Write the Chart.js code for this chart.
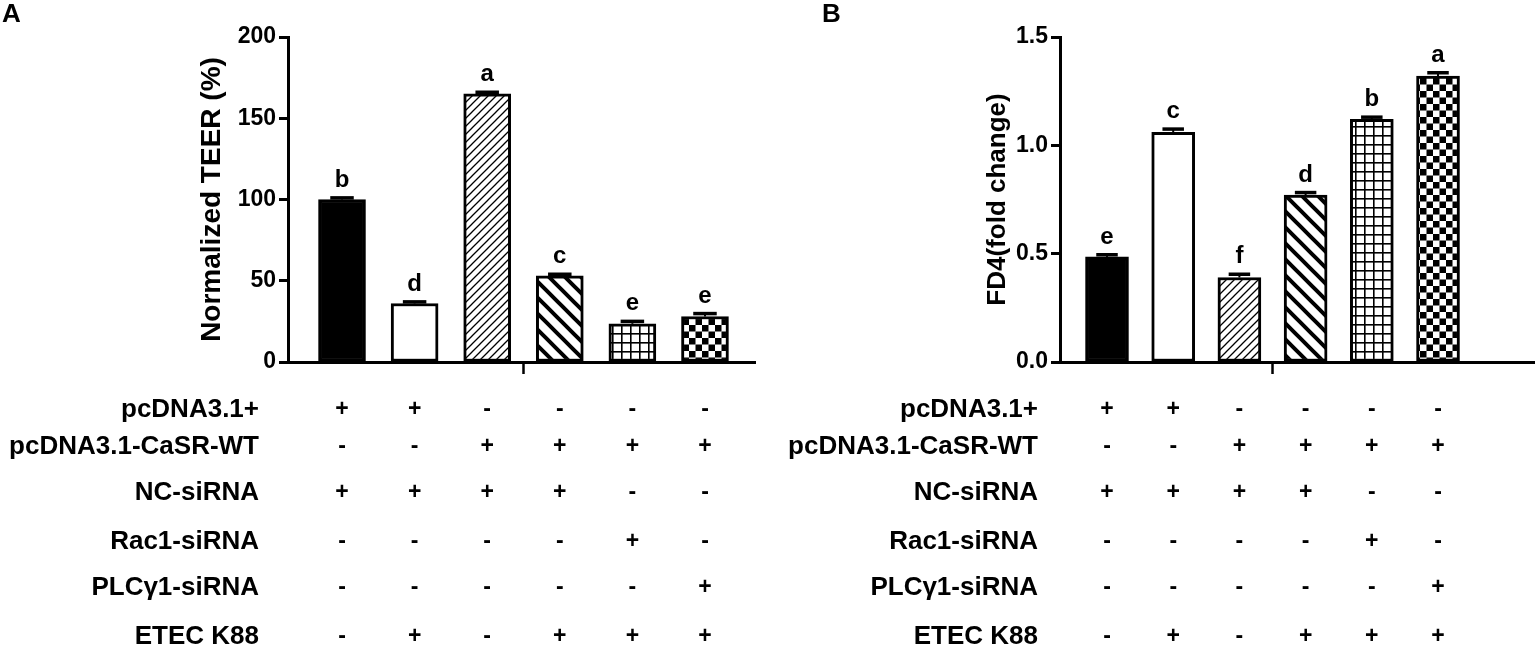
<!DOCTYPE html>
<html lang="en">
<head>
    <meta charset="UTF-8">
    <title>TEER and FD4</title>
    <script src="https://cdn.jsdelivr.net/npm/chart.js"></script>
    <style>
        body {
            margin: 0;
            padding: 0;
            background: #ffffff;
        }

        .wrap {
            position: relative;
            width: 1535px;
            height: 648px;
            overflow: hidden;
        }

        .panel {
            position: absolute;
            top: 0;
        }
    </style>
</head>
<body>
<div class="wrap">
    <div class="panel" style="left:0"><canvas id="chartA" width="770" height="648"></canvas></div>
    <div class="panel" style="left:770px"><canvas id="chartB" width="765" height="648"></canvas></div>
</div>

<script>
    // six treatment groups, same design in both panels
    const groups = [0, 1, 2, 3, 4, 5];

    const teerValues = [100, 36, 165, 53, 23.5, 28];
    const teerErrors = [1, 1, 1, 1, 1.5, 1.8];
    const teerLetters = ['b', 'd', 'a', 'c', 'e', 'e'];
    const teerTicks = [0, 50, 100, 150, 200];

    const fd4Values = [0.485, 1.06, 0.39, 0.77, 1.12, 1.32];
    const fd4Errors = [0.01, 0.015, 0.015, 0.012, 0.01, 0.015];
    const fd4Letters = ['e', 'c', 'f', 'd', 'b', 'a'];
    const fd4Ticks = [0, 0.5, 1.0, 1.5];

    const rowNames = ['pcDNA3.1+', 'pcDNA3.1-CaSR-WT', 'NC-siRNA', 'Rac1-siRNA', 'PLCγ1-siRNA', 'ETEC K88'];
    const rowSigns = [
        ['+', '+', '-', '-', '-', '-'],
        ['-', '-', '+', '+', '+', '+'],
        ['+', '+', '+', '+', '-', '-'],
        ['-', '-', '-', '-', '+', '-'],
        ['-', '-', '-', '-', '-', '+'],
        ['-', '+', '-', '+', '+', '+']
    ];

    Chart.defaults.font.family = '"Liberation Sans", Arial, sans-serif';
    Chart.defaults.color = '#000';

    // fill patterns for the bars
    function makePattern(size, draw) {
        const c = document.createElement('canvas');
        c.width = size;
        c.height = size;
        const g = c.getContext('2d');
        g.fillStyle = '#fff';
        g.fillRect(0, 0, size, size);
        g.strokeStyle = '#000';
        g.fillStyle = '#000';
        draw(g, size);
        return g.createPattern(c, 'repeat');
    }

    const fineHatch = makePattern(8, (g, s) => {
        g.lineWidth = 1.3;
        g.beginPath();
        g.moveTo(0, s); g.lineTo(s, 0);
        g.moveTo(-1, 1); g.lineTo(1, -1);
        g.moveTo(s - 1, s + 1); g.lineTo(s + 1, s - 1);
        g.stroke();
    });

    const thickHatch = makePattern(16, (g, s) => {
        g.lineWidth = 4;
        g.beginPath();
        g.moveTo(0, 0); g.lineTo(s, s);
        g.moveTo(-3, s - 3); g.lineTo(3, s + 3);
        g.moveTo(s - 3, -3); g.lineTo(s + 3, 3);
        g.stroke();
    });

    const gridFill = makePattern(9, (g, s) => {
        g.fillRect(0, 0, s, 1.6);
        g.fillRect(0, 0, 1.6, s);
    });

    const checkFill = makePattern(13, (g, s) => {
        g.fillRect(0, 0, 6.5, 6.5);
        g.fillRect(6.5, 6.5, 6.5, 6.5);
    });

    const barFills = ['#000', '#fff', fineHatch, thickHatch, gridFill, checkFill];

    // error caps, letters, centre tick, condition table and panel letter
    const extrasPlugin = {
        id: 'extras',
        afterDatasetsDraw(chart, args, opts) {
            const ctx = chart.ctx;
            const x = chart.scales.x;
            const y = chart.scales.y;
            const meta = chart.getDatasetMeta(0);
            const area = chart.chartArea;
            ctx.save();

            meta.data.forEach((bar, i) => {
                const v = opts.values[i];
                const topY = y.getPixelForValue(v + opts.errors[i]);
                const w = bar.width * 0.5;
                ctx.strokeStyle = '#000';
                ctx.lineWidth = 2;
                ctx.beginPath();
                ctx.moveTo(bar.x, y.getPixelForValue(v));
                ctx.lineTo(bar.x, topY);
                ctx.stroke();
                ctx.lineWidth = 3.5;
                ctx.beginPath();
                ctx.moveTo(bar.x - w / 2, topY);
                ctx.lineTo(bar.x + w / 2, topY);
                ctx.stroke();

                ctx.fillStyle = '#000';
                ctx.font = 'bold 24px "Liberation Sans", Arial, sans-serif';
                ctx.textAlign = 'center';
                ctx.textBaseline = 'alphabetic';
                ctx.fillText(opts.letters[i], bar.x, topY - 11);
            });

            // small tick between the two halves
            const mid = x.getPixelForValue(2.5);
            ctx.lineWidth = 2.5;
            ctx.beginPath();
            ctx.moveTo(mid, area.bottom);
            ctx.lineTo(mid, area.bottom + 12);
            ctx.stroke();

            // treatment table under the axis
            const rowOffsets = [48, 85, 131, 180, 226, 275];
            ctx.textBaseline = 'middle';
            rowNames.forEach((name, r) => {
                const ry = area.bottom + rowOffsets[r];
                ctx.font = 'bold 26px "Liberation Sans", Arial, sans-serif';
                ctx.textAlign = 'right';
                ctx.fillText(name, opts.labelRight, ry);
                ctx.font = 'bold 23px "Liberation Sans", Arial, sans-serif';
                ctx.textAlign = 'center';
                rowSigns[r].forEach((s, i) => {
                    ctx.fillText(s, x.getPixelForValue(groups[i]), ry);
                });
            });

            ctx.font = 'bold 26px "Liberation Sans", Arial, sans-serif';
            ctx.textAlign = 'left';
            ctx.fillText(opts.panel, opts.panelX, 15);
            ctx.restore();
        }
    };

    function makeChart(id, cfg) {
        return new Chart(document.getElementById(id), {
            type: 'bar',
            data: {
                datasets: [{
                    data: cfg.values.map((v, i) => ({x: groups[i], y: v})),
                    backgroundColor: barFills,
                    borderColor: '#000',
                    borderWidth: 3,
                    borderSkipped: false,
                    barThickness: cfg.barWidth
                }]
            },
            options: {
                responsive: false,
                animation: false,
                layout: {
                    padding: {left: cfg.padLeft, right: cfg.padRight, top: 37, bottom: 286}
                },
                plugins: {
                    legend: {display: false},
                    tooltip: {enabled: false},
                    extras: {
                        values: cfg.values,
                        errors: cfg.errors,
                        letters: cfg.letters,
                        labelRight: cfg.labelRight,
                        panel: cfg.panel,
                        panelX: cfg.panelX
                    }
                },
                scales: {
                    x: {
                        type: 'linear',
                        offset: false,
                        min: cfg.xMin,
                        max: cfg.xMax,
                        ticks: {display: false},
                        grid: {display: false, drawTicks: false, offset: false},
                        border: {display: true, color: '#000', width: 3},
                        afterFit: s => { s.height = 0; }
                    },
                    y: {
                        min: 0,
                        max: cfg.ticks[cfg.ticks.length - 1],
                        afterBuildTicks: s => { s.ticks = cfg.ticks.map(v => ({value: v})); },
                        ticks: {
                            font: {size: 23, weight: 'bold'},
                            color: '#000',
                            padding: 3,
                            callback: cfg.format
                        },
                        grid: {
                            display: true,
                            drawOnChartArea: false,
                            drawTicks: true,
                            tickLength: 9,
                            tickWidth: 3,
                            color: '#000'
                        },
                        border: {display: true, color: '#000', width: 3},
                        title: {
                            display: true,
                            text: cfg.title,
                            font: {size: cfg.titleSize, weight: 'bold'},
                            color: '#000'
                        },
                        afterFit: s => { s.width = cfg.axisWidth; }
                    }
                }
            },
            plugins: [extrasPlugin]
        });
    }

    makeChart('chartA', {
        values: teerValues,
        errors: teerErrors,
        letters: teerLetters,
        ticks: teerTicks,
        format: v => String(v),
        title: 'Normalized TEER (%)',
        titleSize: 28,
        padLeft: 191,
        padRight: 15,
        axisWidth: 97,
        xMin: -0.744,
        xMax: 5.689,
        barWidth: 47,
        labelRight: 259,
        panel: 'A',
        panelX: 2
    });

    makeChart('chartB', {
        values: fd4Values,
        errors: fd4Errors,
        letters: fd4Letters,
        ticks: fd4Ticks,
        format: v => v.toFixed(1),
        title: 'FD4(fold change)',
        titleSize: 26,
        padLeft: 208,
        padRight: 0,
        axisWidth: 82,
        xMin: -0.71,
        xMax: 6.465,
        barWidth: 43,
        labelRight: 268,
        panel: 'B',
        panelX: 52
    });
</script>
</body>
</html>
